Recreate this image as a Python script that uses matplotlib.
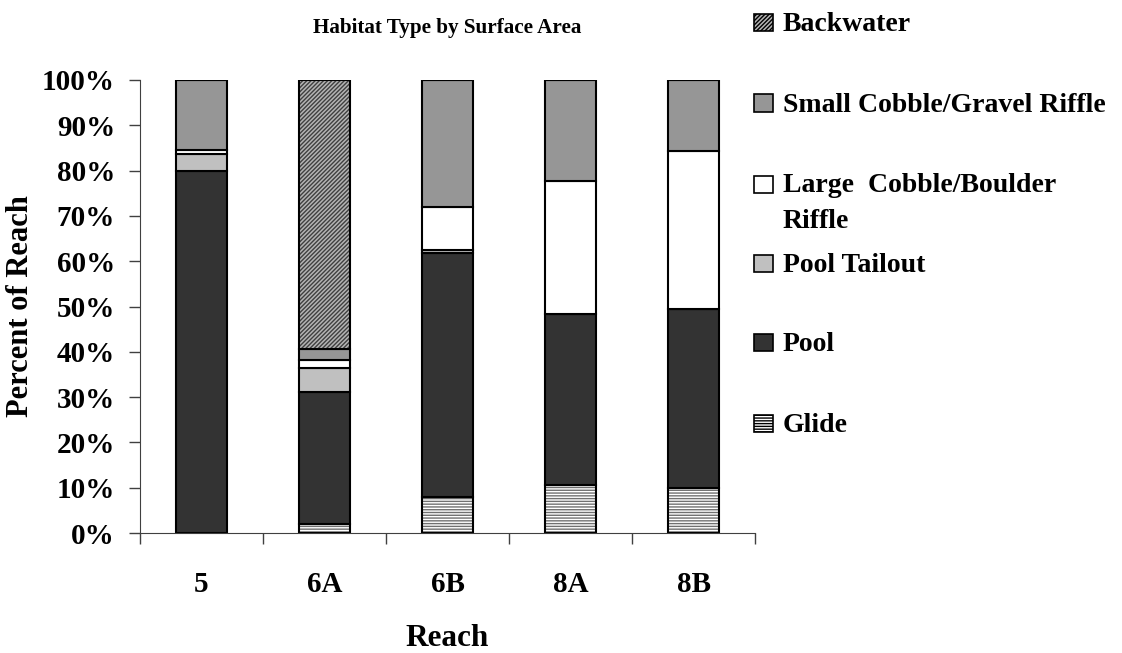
import matplotlib
matplotlib.use('Agg')
import matplotlib.pyplot as plt
import numpy as np
from matplotlib.patches import Rectangle
from matplotlib.ticker import FuncFormatter, FixedLocator

plt.rcParams['font.family'] = ['Liberation Serif', 'DejaVu Serif']
plt.rcParams['font.weight'] = 'bold'
plt.rcParams['hatch.linewidth'] = 1.0

# data (percent of reach)
reaches = ['5', '6A', '6B', '8A', '8B']
glide = [0.0, 1.9, 7.9, 10.7, 10.0]
pool = [80.0, 29.3, 53.8, 37.6, 39.4]
tailout = [3.6, 5.2, 0.8, 0.0, 0.0]
large_riffle = [1.0, 1.8, 9.4, 29.5, 34.9]
small_riffle = [15.4, 2.4, 28.1, 22.2, 15.7]
backwater = [0.0, 59.4, 0.0, 0.0, 0.0]

yticks = list(range(0, 101, 10))
legend_labels = ['Backwater', 'Small Cobble/Gravel Riffle',
                 'Large  Cobble/Boulder\nRiffle', 'Pool Tailout', 'Pool', 'Glide']

# stacking order bottom -> top, with face / hatch styles
series = [
    (glide, 'white', '------', '#707070'),
    (pool, '#333333', None, None),
    (tailout, '#c0c0c0', None, None),
    (large_riffle, 'white', None, None),
    (small_riffle, '#969696', None, None),
    (backwater, '#b4b4b4', '////////', '#404040'),
]

W, H = 1122, 653
fig = plt.figure(figsize=(W / 100, H / 100), dpi=100)
ax = fig.add_axes([140 / W, 1 - 533 / H, 615 / W, 453 / H])

x = np.arange(len(reaches))
bw = 0.415
bottom = np.zeros(len(reaches))
for vals, fc, hatch, hc in series:
    vals = np.array(vals)
    if hatch:
        ax.bar(x, vals, bw, bottom=bottom, color=fc, hatch=hatch,
               edgecolor=hc, linewidth=0)
        ax.bar(x, vals, bw, bottom=bottom, fill=False,
               edgecolor='black', linewidth=1.5)
    else:
        ax.bar(x, vals, bw, bottom=bottom, color=fc,
               edgecolor='black', linewidth=1.5)
    bottom += vals

ax.set_xlim(-0.5, len(reaches) - 0.5)
ax.set_ylim(0, 100)
ax.spines['top'].set_visible(False)
ax.spines['right'].set_visible(False)
ax.spines['left'].set_color('#404040')
ax.spines['bottom'].set_color('#404040')

ax.set_xticks(x)
ax.set_xticklabels(reaches, fontsize=21)
ax.tick_params(axis='x', which='major', length=0, pad=27)
ax.xaxis.set_minor_locator(FixedLocator(np.arange(-0.5, len(reaches), 1.0)))
ax.tick_params(axis='x', which='minor', length=8, width=1, color='#404040')

ax.set_yticks(yticks)
ax.yaxis.set_major_formatter(FuncFormatter(lambda v, p: f'{int(v)}%'))
ax.tick_params(axis='y', length=8, width=1, pad=10, labelsize=21, color='#404040')

ax.set_xlabel('Reach', fontsize=22.5, fontweight='bold', labelpad=19)
ax.set_ylabel('Percent of Reach', fontsize=22, fontweight='bold', labelpad=5)
ax.set_title('Habitat Type by Surface Area', fontsize=15.2, fontweight='bold', pad=34)

# legend drawn by hand (square sits on the first text line's baseline)
leg_faces = ['#b4b4b4', '#969696', 'white', '#c0c0c0', '#333333', 'white']
leg_hatch = ['////////', None, None, None, None, '------']
leg_base = [31, 111.5, 192.5, 272, 351, 432]
for lab, fc, hh, yb in zip(legend_labels, leg_faces, leg_hatch, leg_base):
    sq = Rectangle((754 / W, 1 - yb / H), 19 / W, 17 / H,
                   transform=fig.transFigure, facecolor=fc, hatch=hh,
                   edgecolor='black', linewidth=1.2)
    fig.add_artist(sq)
    for i, line in enumerate(lab.split('\n')):
        fig.text(783 / W, 1 - (yb + i * 35.5) / H, line, fontsize=20,
                 fontweight='bold', va='baseline', ha='left')

fig.savefig('out.png', dpi=100)
